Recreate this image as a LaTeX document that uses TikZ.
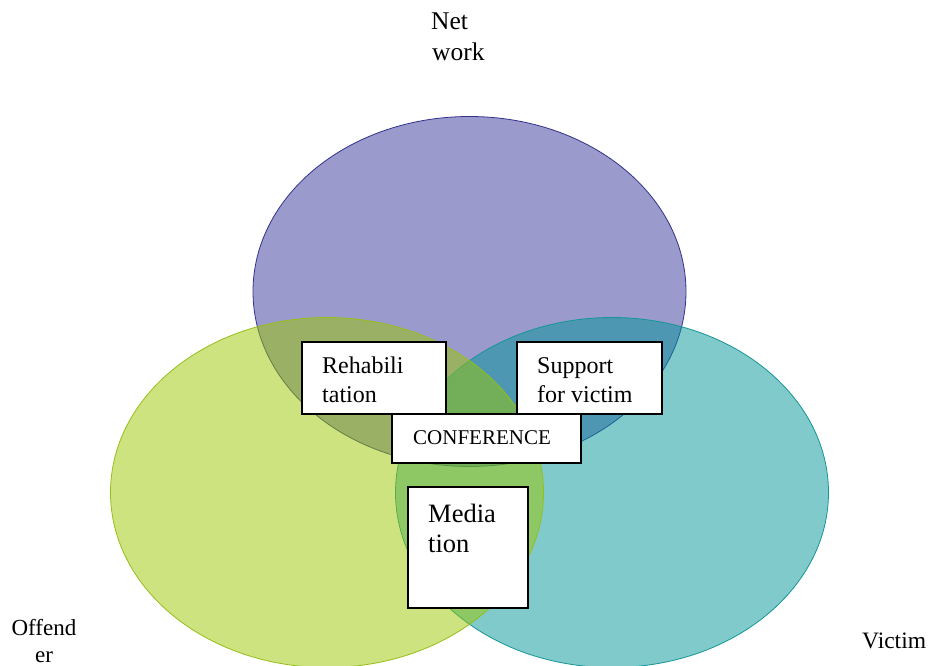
\documentclass[tikz,border=0pt]{standalone}
\usepackage{fontspec}
\setmainfont{Liberation Serif}
\usetikzlibrary{shapes.geometric}
\definecolor{netfill}{RGB}{55,53,155}
\definecolor{netline}{RGB}{50,50,140}
\definecolor{offfill}{RGB}{155,199,0}
\definecolor{offline}{RGB}{150,190,25}
\definecolor{vicfill}{RGB}{1,149,153}
\definecolor{vicline}{RGB}{20,150,150}
\tikzset{
  circ/.style={ellipse, inner sep=0pt, minimum width=433pt, minimum height=350pt, fill opacity=0.5, line width=0.8pt},
  wbox/.style={rectangle, draw=black, fill=white, line width=1.6pt, inner sep=0pt, anchor=north west},
  txt/.style={anchor=base west, inner sep=0pt, text=black},
  big/.style={font=\fontsize{24}{28}\selectfont},
}
\begin{document}
\begin{tikzpicture}[x=1pt,y=-1pt]
\useasboundingbox (0,0) rectangle (930,666);
\begin{scope}
\clip (0,0) rectangle (930,666);
\node[circ, fill=netfill, draw=netline] (net) at (469.5,291.5) {};
\node[circ, fill=vicfill, draw=vicline] (vic) at (612,492.5) {};
\node[circ, fill=offfill, draw=offline] (off) at (327,492.5) {};
\end{scope}
% boxes
\node[wbox, minimum width=144pt, minimum height=72pt] (rehab) at (301,341) {};
\node[wbox, minimum width=145pt, minimum height=72pt] (supp) at (516,341) {};
\node[wbox, minimum width=189pt, minimum height=49pt] (conf) at (391,413) {};
\node[wbox, minimum width=120pt, minimum height=121pt] (med) at (407,486) {};
% box texts
\node[txt, big] (rehab1) at (322,373) {Rehabili};
\node[txt, big] (rehab2) at (322,402) {tation};
\node[txt, big] (supp1) at (537,373) {Support};
\node[txt, big] (supp2) at (537,402) {for victim};
\node[txt, font=\fontsize{21}{25}\selectfont] (conftxt) at (413,444) {CONFERENCE};
\node[txt, font=\fontsize{26.5}{30}\selectfont] (med1) at (428,522) {Media};
\node[txt, font=\fontsize{26.5}{30}\selectfont] (med2) at (428,552) {tion};
% outer labels
\node[txt, font=\fontsize{25.5}{30}\selectfont] (netl1) at (431,30) {Net};
\node[txt, font=\fontsize{25.5}{30}\selectfont] (netl2) at (432,61) {work};
\node[anchor=base, inner sep=0pt, font=\fontsize{23}{27}\selectfont] (offl1) at (44,635) {Offend};
\node[anchor=base, inner sep=0pt, font=\fontsize{23}{27}\selectfont] (offl2) at (44,662) {er};
\node[txt, font=\fontsize{23.5}{27}\selectfont] (vicl) at (862,648) {Victim};
\end{tikzpicture}
\end{document}
